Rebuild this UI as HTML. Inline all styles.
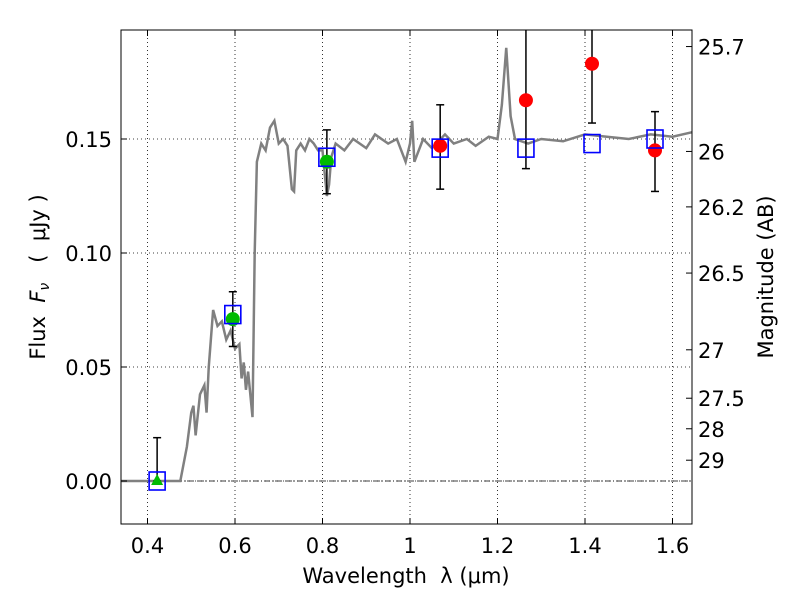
<!DOCTYPE html>
<html><head><meta charset="utf-8"><style>
body{margin:0;background:#fff}
text{font-family:"DejaVu Sans","Liberation Sans",sans-serif;fill:#000}
</style></head><body>
<svg id="chart" width="800" height="600" xmlns="http://www.w3.org/2000/svg">
<g id="grid"></g>
<g id="series"></g>
<rect x="121" y="30" width="571" height="494" fill="none" stroke="#000" stroke-width="1"/>
<g id="axes"></g>
<text x="406" y="583" font-size="21" text-anchor="middle" xml:space="preserve">Wavelength  λ (μm)</text>
<text transform="translate(45,277) rotate(-90)" font-size="21" text-anchor="middle" xml:space="preserve">Flux  <tspan font-style="italic">F</tspan><tspan font-style="italic" font-size="14" dy="4">ν</tspan><tspan dy="-4">   (  μJy )</tspan></text>
<text transform="translate(773,277) rotate(-90)" font-size="21" text-anchor="middle">Magnitude (AB)</text>
</svg>
<script>
const xTicks=[0.4,0.6,0.8,1.0,1.2,1.4,1.6];
const xTickLabels=["0.4","0.6","0.8","1","1.2","1.4","1.6"];
const yTicks=[0,0.05,0.10,0.15];
const yTickLabels=["0.00","0.05","0.10","0.15"];
const magTicks=[25.7,26,26.2,26.5,27,27.5,28,29];
const specX=[0.34,0.475,0.49,0.5,0.505,0.51,0.52,0.53,0.535,0.54,0.55,0.56,0.57,0.58,0.59,0.6,0.61,0.615,0.62,0.625,0.63,0.64,0.645,0.65,0.66,0.67,0.68,0.69,0.7,0.71,0.72,0.73,0.735,0.74,0.75,0.76,0.77,0.78,0.79,0.8,0.81,0.815,0.82,0.83,0.85,0.87,0.9,0.92,0.95,0.97,0.99,1.0,1.005,1.01,1.03,1.05,1.08,1.1,1.13,1.15,1.18,1.2,1.21,1.22,1.23,1.24,1.27,1.3,1.35,1.4,1.45,1.5,1.55,1.6,1.645];
const specY=[0,0,0.015,0.03,0.033,0.02,0.038,0.042,0.03,0.05,0.075,0.068,0.07,0.062,0.066,0.058,0.06,0.045,0.052,0.04,0.048,0.028,0.1,0.14,0.148,0.145,0.155,0.158,0.148,0.15,0.147,0.128,0.127,0.145,0.148,0.145,0.15,0.148,0.145,0.145,0.125,0.13,0.142,0.148,0.145,0.15,0.146,0.152,0.148,0.15,0.14,0.148,0.158,0.14,0.15,0.146,0.152,0.148,0.15,0.147,0.151,0.15,0.165,0.19,0.16,0.15,0.148,0.15,0.149,0.152,0.151,0.15,0.152,0.151,0.153];
const sqX=[0.422,0.595,0.81,1.069,1.265,1.416,1.56];
const sqY=[0.0,0.073,0.142,0.146,0.146,0.148,0.150];
const grnX=[0.595,0.81];const grnY=[0.071,0.140];const grnLo=[0.059,0.126];const grnHi=[0.083,0.154];
const triX=[0.422];const triY=[0.0];const triHi=[0.019];
const redX=[1.069,1.265,1.416,1.56];const redY=[0.147,0.167,0.183,0.145];
const redLo=[0.128,0.137,0.157,0.127];const redHi=[0.165,0.21,0.21,0.162];
const NS="http://www.w3.org/2000/svg";
const X=v=>410+(v-1)*437.5;
const Y=v=>481-v*2280;
function mk(p,t,a){const e=document.createElementNS(NS,t);for(const k in a)e.setAttribute(k,a[k]);p.appendChild(e);return e;}
const grid=document.getElementById('grid'),axes=document.getElementById('axes'),ser=document.getElementById('series');
xTicks.forEach((v,i)=>{
 const g=mk(grid,'line',{x1:X(v),x2:X(v),y1:30,y2:524,stroke:'#000','stroke-dasharray':'1,3','stroke-width':0.8});
 
 mk(axes,'line',{x1:X(v),x2:X(v),y1:524,y2:518,stroke:'#000'});
 mk(axes,'line',{x1:X(v),x2:X(v),y1:30,y2:36,stroke:'#000'});
 const t=mk(axes,'text',{x:X(v),y:553,'font-size':21,'text-anchor':'middle'});t.textContent=xTickLabels[i];
 
});
yTicks.forEach((v,i)=>{
 const g=mk(grid,'line',{x1:121,x2:692,y1:Y(v),y2:Y(v),stroke:'#000','stroke-dasharray':'1,3','stroke-width':0.8});
 
 mk(axes,'line',{x1:121,x2:127,y1:Y(v),y2:Y(v),stroke:'#000'});
 const t=mk(axes,'text',{x:112,y:Y(v)+8,'font-size':21,'text-anchor':'end'});t.textContent=yTickLabels[i];
 
});
magTicks.forEach(m=>{
 const f=Math.pow(10,(23.9-m)/2.5);const y=Y(f);
 mk(axes,'line',{x1:686,x2:692,y1:y,y2:y,stroke:'#000'});
 const t=mk(axes,'text',{x:698,y:y+8,'font-size':21});t.textContent=String(m);
 
});
const z=mk(ser,'line',{x1:121,x2:692,y1:Y(0),y2:Y(0),stroke:'#000','stroke-width':0.8,'stroke-dasharray':'6,2,1,2'});

const sp=mk(ser,'polyline',{points:specX.map((v,i)=>X(v)+','+Y(specY[i])).join(' '),fill:'none',stroke:'#808080','stroke-width':2.5});

function err(x,lo,hi){
 const a=mk(ser,'line',{x1:X(x),x2:X(x),y1:Math.max(30,Y(hi)),y2:Y(lo),stroke:'#000','stroke-width':1.5});
 
 if(Y(hi)>30)mk(ser,'line',{x1:X(x)-4,x2:X(x)+4,y1:Y(hi),y2:Y(hi),stroke:'#000','stroke-width':1.5});
 mk(ser,'line',{x1:X(x)-4,x2:X(x)+4,y1:Y(lo),y2:Y(lo),stroke:'#000','stroke-width':1.5});
}
triX.forEach((v,i)=>{err(v,triY[i],triHi[i]);
 const p=mk(ser,'polygon',{points:`${X(v)},${Y(triY[i])-7} ${X(v)-6},${Y(triY[i])+4} ${X(v)+6},${Y(triY[i])+4}`,fill:'#00bb00'});
 });
grnX.forEach((v,i)=>{err(v,grnLo[i],grnHi[i]);
 const c=mk(ser,'circle',{cx:X(v),cy:Y(grnY[i]),r:7,fill:'#00bb00'});
 });
redX.forEach((v,i)=>{err(v,redLo[i],redHi[i]);
 const c=mk(ser,'circle',{cx:X(v),cy:Y(redY[i]),r:7,fill:'#ff0000'});
 });
sqX.forEach((v,i)=>{
 const r=mk(ser,'rect',{x:X(v)-8,y:Y(sqY[i])-9,width:16,height:18,fill:'none',stroke:'#0000ff','stroke-width':1.6});
 });
</script>
</body></html>
